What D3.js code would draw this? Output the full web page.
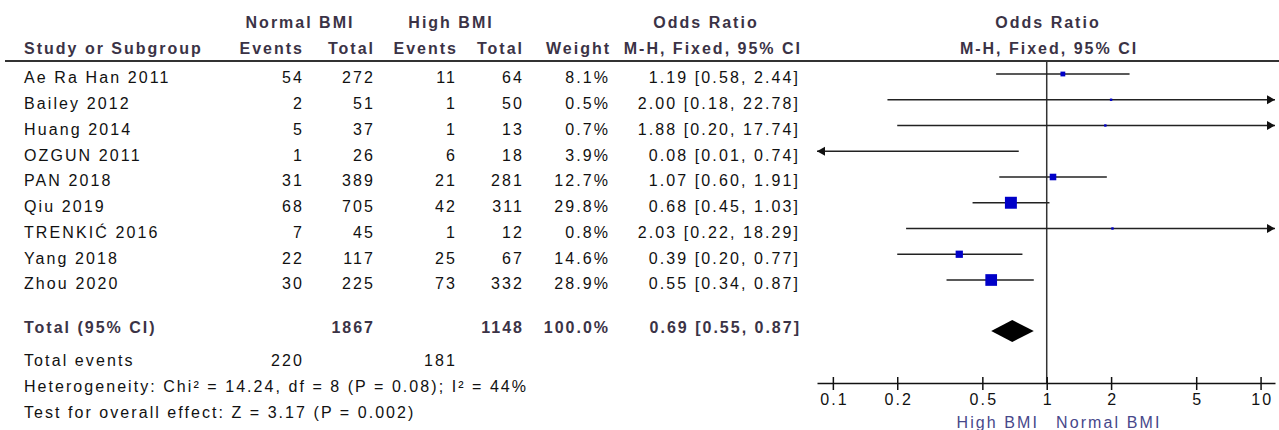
<!DOCTYPE html>
<html>
<head>
<meta charset="utf-8">
<script src="https://cdn.jsdelivr.net/npm/d3@7"></script>
<style>
  body { margin: 0; background: #fff; }
  svg { display: block; }
  text { font-family: "Liberation Sans", Arial, sans-serif; font-size: 16px; letter-spacing: 2.1px; fill: #111; }
  .hd { font-weight: bold; fill: #3b3346; letter-spacing: 2px; }
  .lab { fill: #47478a; }
</style>
</head>
<body>
<div id="chart"></div>
<script>
// study data
const studies = ['Ae Ra Han 2011', 'Bailey 2012', 'Huang 2014', 'OZGUN 2011', 'PAN 2018', 'Qiu 2019', 'TRENKIĆ 2016', 'Yang 2018', 'Zhou 2020'];
const normalEvents = [54, 2, 5, 1, 31, 68, 7, 22, 30];
const normalTotal = [272, 51, 37, 26, 389, 705, 45, 117, 225];
const highEvents = [11, 1, 1, 6, 21, 42, 1, 25, 73];
const highTotal = [64, 50, 13, 18, 281, 311, 12, 67, 332];
const weights = [8.1, 0.5, 0.7, 3.9, 12.7, 29.8, 0.8, 14.6, 28.9];
const oddsRatio = [1.19, 2.00, 1.88, 0.08, 1.07, 0.68, 2.03, 0.39, 0.55];
const ciLow = [0.58, 0.18, 0.20, 0.01, 0.60, 0.45, 0.22, 0.20, 0.34];
const ciHigh = [2.44, 22.78, 17.74, 0.74, 1.91, 1.03, 18.29, 0.77, 0.87];

// pooled result
const pooled = { or: 0.69, lo: 0.55, hi: 0.87 };
const totals = { normal: 1867, high: 1148, normalEvents: 220, highEvents: 181 };
const tickVals = [0.1, 0.2, 0.5, 1, 2, 5, 10];

const width = 1279, height = 430;
const ls = 2.1; // letter spacing, trailing gap for right aligned text
const idx = d3.range(studies.length);

const svg = d3.select('#chart').append('svg')
  .attr('width', width)
  .attr('height', height);

// scales
const x = d3.scaleLog().domain([0.0843, 11.68]).range([817, 1275]);
const y = d3.scalePoint().domain(idx).range([74, 280]);
const sz = d3.scalePow().exponent(0.7).domain([0, 30]).range([0, 12]);
const fmt = d3.format('.2f');
const box = i => Math.max(2.4, sz(weights[i]));

// header
const hd = svg.append('g');
hd.append('text').attr('class', 'hd').attr('x', 300).attr('y', 28).attr('text-anchor', 'middle').text('Normal BMI');
hd.append('text').attr('class', 'hd').attr('x', 451).attr('y', 28).attr('text-anchor', 'middle').text('High BMI');
hd.append('text').attr('class', 'hd').attr('x', 706).attr('y', 28).attr('text-anchor', 'middle').text('Odds Ratio');
hd.append('text').attr('class', 'hd').attr('x', 1048).attr('y', 28).attr('text-anchor', 'middle').text('Odds Ratio');
hd.append('text').attr('class', 'hd').attr('x', 24).attr('y', 54).text('Study or Subgroup');
const colsHd = [['Events', 302], ['Total', 373], ['Events', 456], ['Total', 522], ['Weight', 609], ['M-H, Fixed, 95% CI', 800]];
colsHd.forEach(c => {
  hd.append('text').attr('class', 'hd').attr('x', c[1] + 2).attr('y', 54).attr('text-anchor', 'end').text(c[0]);
});
hd.append('text').attr('class', 'hd').attr('x', 1049).attr('y', 54).attr('text-anchor', 'middle').text('M-H, Fixed, 95% CI');

svg.append('line').attr('x1', 5).attr('x2', width).attr('y1', 61).attr('y2', 61)
  .attr('stroke', '#333').attr('stroke-width', 2);

// table rows
const rows = svg.append('g').selectAll('g')
  .data(idx)
  .join('g')
  .attr('transform', i => `translate(0,${y(i) + 9.3})`);

rows.append('text').attr('x', 24).text(i => studies[i]);
const cols = [
  [i => normalEvents[i], 302],
  [i => normalTotal[i], 373],
  [i => highEvents[i], 455],
  [i => highTotal[i], 522],
  [i => weights[i].toFixed(1) + '%', 608],
  [i => `${fmt(oddsRatio[i])} [${fmt(ciLow[i])}, ${fmt(ciHigh[i])}]`, 798]
];
cols.forEach(c => {
  rows.append('text').attr('x', c[1] + ls).attr('text-anchor', 'end').text(i => c[0](i));
});

// totals
const tb = svg.append('g');
tb.append('text').attr('class', 'hd').attr('x', 24).attr('y', 333).text('Total (95% CI)');
tb.append('text').attr('class', 'hd').attr('x', 373 + 2).attr('y', 333).attr('text-anchor', 'end').text(totals.normal);
tb.append('text').attr('class', 'hd').attr('x', 522 + 2).attr('y', 333).attr('text-anchor', 'end').text(totals.high);
tb.append('text').attr('class', 'hd').attr('x', 608 + 2).attr('y', 333).attr('text-anchor', 'end').text('100.0%');
tb.append('text').attr('class', 'hd').attr('x', 799 + 2).attr('y', 333).attr('text-anchor', 'end')
  .text(`${fmt(pooled.or)} [${fmt(pooled.lo)}, ${fmt(pooled.hi)}]`);
tb.append('text').attr('x', 24).attr('y', 366).text('Total events');
tb.append('text').attr('x', 302 + ls).attr('y', 366).attr('text-anchor', 'end').text(totals.normalEvents);
tb.append('text').attr('x', 455 + ls).attr('y', 366).attr('text-anchor', 'end').text(totals.highEvents);
tb.append('text').attr('x', 24).attr('y', 392).style('letter-spacing', '2.05px').text('Heterogeneity: Chi² = 14.24, df = 8 (P = 0.08); I² = 44%');
tb.append('text').attr('x', 24).attr('y', 418).style('letter-spacing', '2.05px').text('Test for overall effect: Z = 3.17 (P = 0.002)');

// plot
const plot = svg.append('g');
const [xmin, xmax] = x.range();
const [dmin, dmax] = x.domain();

plot.append('line')
  .attr('x1', x(1)).attr('x2', x(1))
  .attr('y1', 61).attr('y2', 383)
  .attr('stroke', '#333').attr('stroke-width', 1.5);

const ci = plot.append('g').selectAll('g')
  .data(idx)
  .join('g');

ci.append('line')
  .attr('x1', i => Math.max(xmin, x(ciLow[i])))
  .attr('x2', i => Math.min(xmax, x(ciHigh[i])))
  .attr('y1', i => y(i)).attr('y2', i => y(i))
  .attr('stroke', '#222').attr('stroke-width', 1.5);

// arrows for clipped intervals
ci.filter(i => ciHigh[i] > dmax)
  .append('path')
  .attr('d', i => `M${xmax},${y(i)} l-8,-4.5 l0,9 z`)
  .attr('fill', '#111');
ci.filter(i => ciLow[i] < dmin)
  .append('path')
  .attr('d', i => `M${xmin},${y(i)} l8,-4.5 l0,9 z`)
  .attr('fill', '#111');

ci.filter(i => oddsRatio[i] >= dmin)
  .append('rect')
  .attr('x', i => x(oddsRatio[i]) - box(i) / 2)
  .attr('y', i => y(i) - box(i) / 2)
  .attr('width', i => box(i))
  .attr('height', i => box(i))
  .attr('fill', '#0000c8');

// pooled diamond
const dy = 331;
plot.append('path')
  .attr('d', `M${x(pooled.lo)},${dy} L${x(pooled.or)},${dy - 11} L${x(pooled.hi)},${dy} L${x(pooled.or)},${dy + 11} Z`)
  .attr('fill', '#000');

// axis
const ax = plot.append('g')
  .attr('transform', 'translate(0,383)')
  .call(d3.axisBottom(x).tickValues(tickVals).tickFormat(d3.format('')).tickSizeInner(7).tickSizeOuter(0));
ax.select('.domain').attr('stroke', '#111').attr('stroke-width', 1.5);
ax.selectAll('.tick line').attr('y1', -6).attr('stroke', '#111').attr('stroke-width', 1.5);
ax.selectAll('.tick text')
  .attr('y', 11).attr('dx', ls / 2)
  .style('font-family', '"Liberation Sans", Arial, sans-serif')
  .style('font-size', '16px')
  .style('letter-spacing', '2.1px')
  .attr('fill', '#111');

plot.append('text').attr('class', 'lab').attr('x', 1037 + ls).attr('y', 428).attr('text-anchor', 'end').text('High BMI');
plot.append('text').attr('class', 'lab').attr('x', 1056).attr('y', 428).text('Normal BMI');
</script>
</body>
</html>
